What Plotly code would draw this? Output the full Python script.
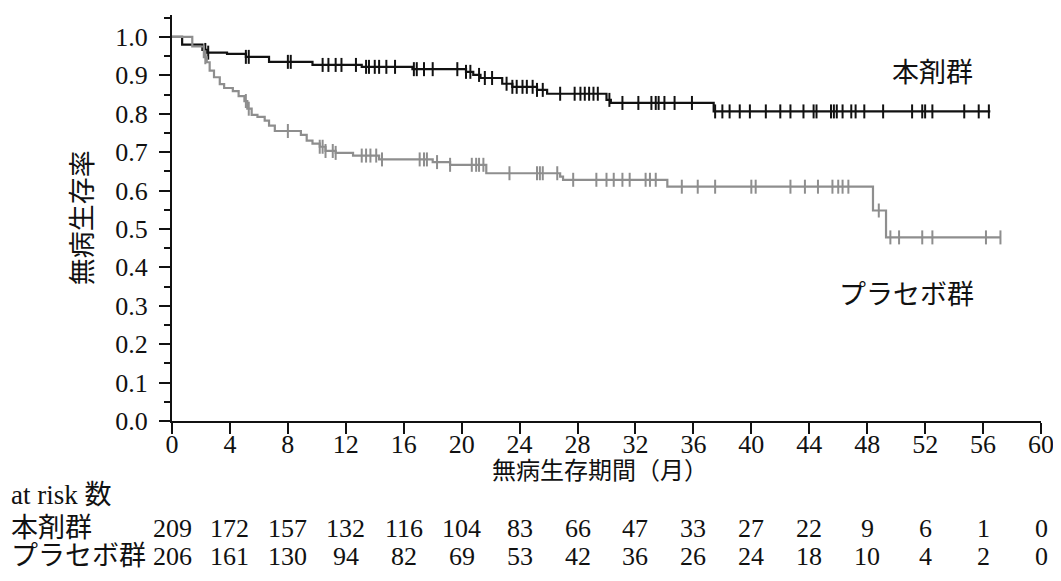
import plotly.graph_objects as go

# 本剤群: step times (months) and survival after each step
drug_t = [0, 0.7, 2.1, 2.4, 3.8, 5.1, 6.7, 9.7, 13.1, 16.6, 20.3, 20.8, 21.3,
          22.8, 23.5, 25.2, 25.9, 30.0, 30.3, 37.4, 56.5]
drug_s = [1.0, 0.98, 0.966, 0.959, 0.956, 0.948, 0.935, 0.927, 0.922, 0.916,
          0.909, 0.901, 0.893, 0.878, 0.87, 0.862, 0.852, 0.836, 0.828, 0.806, 0.806]
drug_cens = [2.3, 2.5, 5.1, 5.3, 8.0, 8.2, 10.4, 10.8, 11.3, 11.7, 12.7, 13.4,
             13.6, 14.0, 14.3, 14.8, 15.4, 16.7, 16.9, 17.4, 18.0, 19.7, 20.3,
             20.6, 21.2, 21.6, 22.1, 23.1, 23.5, 23.8, 24.2, 24.5, 24.9, 25.2,
             25.6, 26.8, 27.8, 28.2, 28.5, 28.8, 29.1, 29.4, 30.2, 31.1, 32.2,
             33.1, 33.4, 33.6, 34.0, 34.7, 35.9, 37.5, 38.0, 38.5, 39.2, 39.9,
             41.0, 42.0, 42.7, 43.6, 44.3, 44.5, 45.5, 45.7, 45.9, 46.3, 46.9,
             47.2, 47.8, 49.1, 51.1, 51.8, 52.0, 52.5, 54.7, 55.7, 56.4]

# プラセボ群
plac_t = [0, 1.4, 2.2, 2.4, 2.6, 2.9, 3.3, 3.6, 4.2, 4.6, 5.0, 5.2, 5.5, 5.9,
          6.4, 6.7, 7.1, 8.9, 9.3, 9.7, 10.2, 10.6, 11.3, 12.5, 14.3, 18.0,
          19.2, 21.7, 26.8, 27.0, 34.2, 48.4, 49.3, 57.2]
plac_s = [1.0, 0.975, 0.947, 0.934, 0.912, 0.895, 0.877, 0.867, 0.859, 0.846,
          0.833, 0.813, 0.797, 0.792, 0.782, 0.769, 0.755, 0.745, 0.73, 0.722,
          0.714, 0.703, 0.698, 0.691, 0.681, 0.674, 0.667, 0.645, 0.636, 0.628,
          0.61, 0.548, 0.478, 0.478]
plac_cens = [2.3, 5.1, 5.3, 8.0, 10.2, 10.4, 10.6, 11.1, 11.3, 13.1, 13.4, 13.7,
             14.1, 14.5, 17.1, 17.4, 17.6, 18.3, 19.2, 20.7, 21.0, 21.2, 21.5,
             23.3, 25.2, 25.4, 25.6, 26.6, 27.7, 29.3, 30.0, 30.5, 31.1, 31.6,
             32.7, 33.0, 33.4, 35.2, 36.3, 37.5, 40.0, 40.3, 42.7, 43.7, 44.6,
             45.6, 46.0, 46.3, 46.7, 48.8, 49.6, 50.2, 51.8, 52.5, 56.2, 57.2]

risk_months = list(range(0, 61, 4))
risk_drug = [209, 172, 157, 132, 116, 104, 83, 66, 47, 33, 27, 22, 9, 6, 1, 0]
risk_plac = [206, 161, 130, 94, 82, 69, 53, 42, 36, 26, 24, 18, 10, 4, 2, 0]

SERIF = "Liberation Serif, Noto Sans CJK JP, serif"
BLACK = "#111111"
GREY = "#8e8e8e"
NUM = dict(size=26)
JP = dict(size=27)


def surv_at(times, surv, t):
    val = surv[0]
    for ti, si in zip(times, surv):
        if ti <= t:
            val = si
    return val


fig = go.Figure()
for t, s, cens, col in [(drug_t, drug_s, drug_cens, BLACK),
                        (plac_t, plac_s, plac_cens, GREY)]:
    fig.add_trace(go.Scatter(x=t, y=s, mode="lines", line_shape="hv",
                             line=dict(color=col, width=2.2), showlegend=False))
    fig.add_trace(go.Scatter(x=cens, y=[surv_at(t, s, c) for c in cens],
                             mode="markers", showlegend=False,
                             marker=dict(symbol="line-ns", size=10,
                                         line=dict(color=col, width=2))))


def note(x, y, text, xref="paper", yref="paper", font=JP, **kw):
    d = dict(x=x, y=y, xref=xref, yref=yref, text=text, showarrow=False,
             xanchor="center", yanchor="middle", font=font)
    d.update(kw)
    return d


annotations = [
    note(52.5, 0.906, "本剤群", xref="x", yref="y"),
    note(50.7, 0.329, "プラセボ群", xref="x", yref="y"),
    note(-0.102, 0.5, "無病生存率", textangle=-90),
    note(0.4925, -0.122, "無病生存期間（月）", font=dict(size=24)),
    note(-0.188, -0.183, "at risk 数", xanchor="left"),
    note(-0.188, -0.264, "本剤群", xanchor="left"),
    note(-0.188, -0.333, "プラセボ群", xanchor="left"),
]
for m, a, b in zip(risk_months, risk_drug, risk_plac):
    annotations.append(note(m, -0.264, str(a), xref="x", font=NUM))
    annotations.append(note(m, -0.333, str(b), xref="x", font=NUM))

# page body has an 8px margin, so the figure is shrunk and shifted by that
fig.update_layout(
    width=1053, height=573,
    margin=dict(l=164, r=20, t=7, b=159.5),
    paper_bgcolor="white", plot_bgcolor="white",
    font=dict(family=SERIF, size=26, color="#111111"),
    annotations=annotations,
    xaxis=dict(range=[0, 60], tickvals=risk_months, ticks="outside", ticklen=11,
               tickwidth=1.5, tickcolor="#111111", showline=True, linewidth=2,
               linecolor="#111111", showgrid=False, zeroline=False,
               ticklabelstandoff=-12, tickfont=NUM),
    yaxis=dict(range=[0, 1.057], dtick=0.1, tick0=0, tickformat=".1f",
               ticks="outside", ticklen=11, tickwidth=1.5, tickcolor="#111111",
               minor=dict(dtick=0.05, ticks="outside", ticklen=6, tickwidth=1.5,
                          tickcolor="#111111"),
               showline=True, linewidth=2, linecolor="#111111", showgrid=False,
               zeroline=False, ticklabelstandoff=6, tickfont=NUM),
)

fig.write_html("out.html")
